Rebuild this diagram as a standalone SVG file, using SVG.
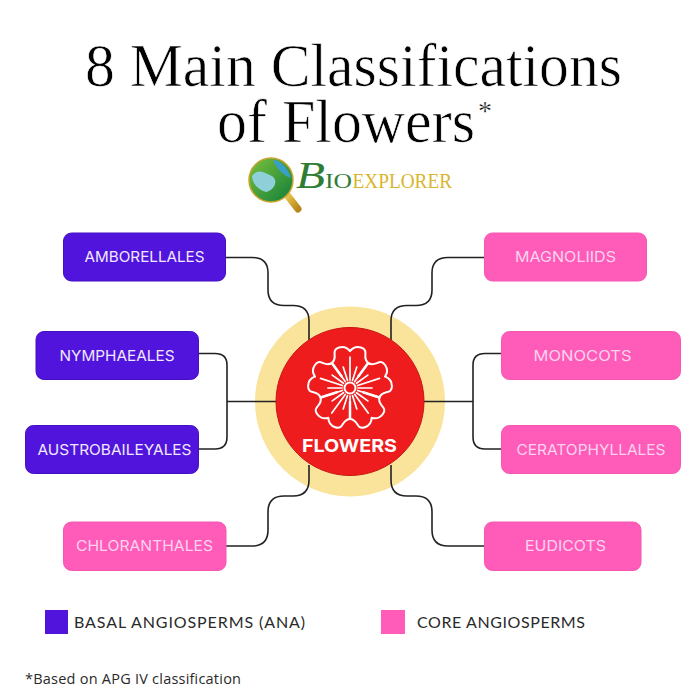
<svg xmlns="http://www.w3.org/2000/svg" xmlns:xlink="http://www.w3.org/1999/xlink" width="700" height="700" viewBox="0 0 700 700">
<style>
.title{font-family:"Liberation Serif",serif;font-size:62px;fill:#000;stroke:#fff;stroke-width:.7px}
.box{stroke-width:1}
.basal{fill:#5014dc;stroke:#4410c0}
.core{fill:#ff5cb9;stroke:#f657b2}
.lbl{font-family:"Inter","Liberation Sans",sans-serif;font-size:15px;text-anchor:middle}
.lbl-b{fill:#f1e8ff}
.lbl-c{fill:#fbd3ee}
.leg{font-family:"Lato","Liberation Sans",sans-serif;font-size:16px;fill:#2a2a2a}
.conn{fill:none;stroke:#222;stroke-width:1.6}
.pet{fill:none;stroke:#fff;stroke-width:2.2;stroke-linejoin:round;stroke-linecap:round}
.ray{stroke:#fff;stroke-width:1.7;stroke-linecap:round}
</style>
<defs>
<linearGradient id="gl" x1="0" y1="0" x2="1" y2="1"><stop offset="0" stop-color="#7cc23a"/><stop offset="1" stop-color="#0f7d3a"/></linearGradient>
<linearGradient id="gold" x1="0" y1="0" x2="1" y2="1"><stop offset="0" stop-color="#e9c84e"/><stop offset="1" stop-color="#b9851c"/></linearGradient>
<path id="petal" d="M9-12L20-27C12-33 22-41 12-44C7-45.500 3-44 0-40C-3-44-7-45.500-12-44C-22-41-12-33-20-27L-9-12"/>
</defs>
<rect width="700" height="700" fill="#fff"/>
<g id="title">
<text class="title"><tspan x="85" y="86" textLength="537" lengthAdjust="spacingAndGlyphs">8 Main Classifications</tspan><tspan x="217" y="141.500" textLength="258" lengthAdjust="spacingAndGlyphs">of Flowers</tspan><tspan x="478" y="119.500" style="font-size:28px;stroke-width:.3px">*</tspan></text>
</g>
<g id="logo">
<path d="M287 195L298 209" stroke="url(#gold)" stroke-width="7" stroke-linecap="round" fill="none"/>
<circle cx="271" cy="180" r="22" fill="url(#gl)" stroke="#c9a52f" stroke-width="1.500"/>
<path d="M252 176C258 168 264 172 272 176C279 181 274 190 266 192C259 190 252 184 252 176Z" fill="#8fd0d8"/>
<path d="M273 160C280 160 288 168 291 178C284 176 276 168 273 160Z" fill="#3aa0c8"/>
<text y="188" font-family="Liberation Serif,serif" font-size="20"><tspan x="296" font-size="38" font-style="italic" fill="#2f7d34" textLength="29" lengthAdjust="spacingAndGlyphs">B</tspan><tspan x="325" fill="#2f7d34" textLength="27" lengthAdjust="spacingAndGlyphs">IO</tspan><tspan x="352.500" fill="#d9b52e" textLength="99.500" lengthAdjust="spacingAndGlyphs">EXPLORER</tspan></text>
</g>
<g id="hub-back"><circle cx="350" cy="401.500" r="95" fill="#fae39a"/></g>
<g id="connectors" class="conn">
<path d="M226 257.500H252Q268 257.500 268 273V290Q268 305.500 284 305.500H293Q309 305.500 309 321V340"/>
<path d="M484 257.500H448Q432 257.500 432 273V290Q432 305.500 416 305.500H407Q391 305.500 391 321V340"/>
<path d="M199 353.500H215Q227 353.500 227 365V437Q227 449 215 449H199M227 401.500H280"/>
<path d="M501 353.500H485Q473 353.500 473 365V437Q473 449 485 449H501M473 401.500H420"/>
<path d="M226 546H252Q268 546 268 530V512Q268 496 284 496H293Q309 496 309 480V465"/>
<path d="M484 546H448Q432 546 432 530V512Q432 496 416 496H407Q391 496 391 480V465"/>
</g>
<g id="flowers">
<circle cx="350" cy="401.500" r="74" fill="#ee1c1c" stroke="#c81414"/>
<g transform="translate(350 388)">
<g class="pet" transform="scale(.92)">
<use xlink:href="#petal"/><use xlink:href="#petal" transform="rotate(72)"/><use xlink:href="#petal" transform="rotate(144)"/><use xlink:href="#petal" transform="rotate(216)"/><use xlink:href="#petal" transform="rotate(288)"/>
</g>
<g class="ray">
<path d="M0-8V-31" transform="rotate(0)"/><path d="M0-8V-22" transform="rotate(18)"/><path d="M0-8V-31" transform="rotate(36)"/><path d="M0-8V-22" transform="rotate(54)"/><path d="M0-8V-31" transform="rotate(72)"/><path d="M0-8V-22" transform="rotate(90)"/><path d="M0-8V-31" transform="rotate(108)"/><path d="M0-8V-22" transform="rotate(126)"/><path d="M0-8V-31" transform="rotate(144)"/><path d="M0-8V-22" transform="rotate(162)"/><path d="M0-8V-31" transform="rotate(180)"/><path d="M0-8V-22" transform="rotate(198)"/><path d="M0-8V-31" transform="rotate(216)"/><path d="M0-8V-22" transform="rotate(234)"/><path d="M0-8V-31" transform="rotate(252)"/><path d="M0-8V-22" transform="rotate(270)"/><path d="M0-8V-31" transform="rotate(288)"/><path d="M0-8V-22" transform="rotate(306)"/><path d="M0-8V-31" transform="rotate(324)"/><path d="M0-8V-22" transform="rotate(342)"/>
</g>
<circle r="5.500" fill="none" stroke="#fff" stroke-width="2"/>
</g>
<text x="349.500" y="452" font-family="Inter,Liberation Sans,sans-serif" font-weight="700" font-size="18" fill="#fff" text-anchor="middle" textLength="95" lengthAdjust="spacingAndGlyphs">FLOWERS</text>
</g>
<g id="amborellales"><rect class="box basal" x="63.500" y="233" width="162" height="48" rx="8"/><text class="lbl lbl-b" x="144.500" y="262" textLength="120" lengthAdjust="spacingAndGlyphs">AMBORELLALES</text></g>
<g id="nymphaeales"><rect class="box basal" x="36" y="331.500" width="162.500" height="48" rx="8"/><text class="lbl lbl-b" x="117" y="361" textLength="115" lengthAdjust="spacingAndGlyphs">NYMPHAEALES</text></g>
<g id="austrobaileyales"><rect class="box basal" x="25.500" y="425.500" width="173" height="48" rx="8"/><text class="lbl lbl-b" x="114.500" y="455" textLength="154" lengthAdjust="spacingAndGlyphs">AUSTROBAILEYALES</text></g>
<g id="chloranthales"><rect class="box core" x="63.500" y="522" width="162.500" height="48.500" rx="8"/><text class="lbl lbl-c" x="144.500" y="551" textLength="137" lengthAdjust="spacingAndGlyphs">CHLORANTHALES</text></g>
<g id="magnoliids"><rect class="box core" x="484.500" y="233" width="162" height="48" rx="8"/><text class="lbl lbl-c" x="565.500" y="262" textLength="101" lengthAdjust="spacingAndGlyphs">MAGNOLIIDS</text></g>
<g id="monocots"><rect class="box core" x="501.500" y="331.500" width="179" height="48" rx="8"/><text class="lbl lbl-c" x="582.500" y="361" textLength="98" lengthAdjust="spacingAndGlyphs">MONOCOTS</text></g>
<g id="ceratophyllales"><rect class="box core" x="501.500" y="425.500" width="179" height="48" rx="8"/><text class="lbl lbl-c" x="591" y="455" textLength="149" lengthAdjust="spacingAndGlyphs">CERATOPHYLLALES</text></g>
<g id="eudicots"><rect class="box core" x="484.500" y="522" width="156.500" height="48.500" rx="8"/><text class="lbl lbl-c" x="565.500" y="551" textLength="81" lengthAdjust="spacingAndGlyphs">EUDICOTS</text></g>
<g id="legend">
<rect x="45" y="610" width="23" height="24" fill="#5014dc"/>
<text class="leg" x="74" y="628" textLength="231" lengthAdjust="spacing">BASAL ANGIOSPERMS (ANA)</text>
<rect x="381" y="610" width="24" height="24" fill="#ff5cb9"/>
<text class="leg" x="417" y="628" textLength="168" lengthAdjust="spacing">CORE ANGIOSPERMS</text>
<text x="25" y="684" font-family="Open Sans,Liberation Sans,sans-serif" font-size="14.500" fill="#2a2a2a" textLength="216" lengthAdjust="spacing">*Based on APG IV classification</text>
</g>
</svg>
